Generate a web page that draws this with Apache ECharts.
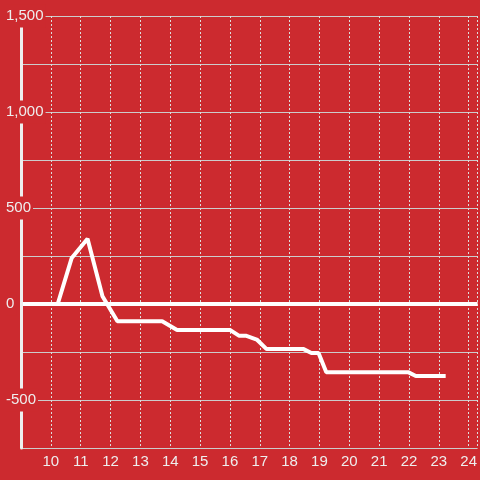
<!DOCTYPE html>
<html>
<head>
<meta charset="utf-8">
<script src="https://cdn.jsdelivr.net/npm/echarts@6/dist/echarts.min.js"></script>
<style>
html, body { margin: 0; padding: 0; background: #cc2a2f; }
#chart { width: 480px; height: 480px; }
</style>
</head>
<body>
<div id="chart"></div>
<script>
// hours of the day and the running value
var hours = [9, 10.23, 10.7, 11.23, 11.73, 12.23, 13.73, 14.23, 16.0, 16.3, 16.53, 16.9, 17.23, 18.47, 18.73, 18.97, 19.23, 21.97, 22.23, 23.23];
var values = [0, 0, 240, 340, 40, -90, -90, -135, -135, -165, -165, -185, -235, -235, -255, -255, -355, -355, -375, -375];
var yTicks = [-500, 0, 500, 1000, 1500];

function buildPoints() {
    var pts = [];
    for (var i = 0; i < hours.length; i++) {
        pts.push([hours[i], values[i]]);
    }
    return pts;
}

function drawChart() {
    var dom = document.getElementById('chart');
    var chart = echarts.init(dom);
    var bg = '#cc2a2f';
    var option = {
        backgroundColor: bg,
        animation: false,
        grid: { left: 21, right: 0, top: 16, bottom: 32 },
        xAxis: {
            type: 'value',
            min: 9,
            max: 24.3,
            interval: 1,
            axisLine: { show: true, lineStyle: { color: '#ccc', width: 1 } },
            axisTick: { show: false },
            axisLabel: {
                color: '#eee',
                fontSize: 15,
                fontFamily: 'Liberation Sans',
                margin: 6,
                showMinLabel: false,
                showMaxLabel: false
            },
            splitLine: { show: true, lineStyle: { color: '#ddd', type: [2, 2], width: 1 } }
        },
        yAxis: [{
                type: 'value',
                min: -750,
                max: 1500,
                interval: 250,
                axisLine: { show: false },
                axisTick: { show: false },
                axisLabel: { show: false },
                splitLine: { show: true, lineStyle: { color: '#ccc', width: 1 } }
            },
            {
                // overlay axis: thick line and labels with a red box
                type: 'value',
                position: 'left',
                min: -750,
                max: 1500,
                interval: 250,
                z: 5,
                axisLine: { show: true, lineStyle: { color: '#eee', width: 3 } },
                axisTick: { show: false },
                splitLine: { show: false },
                axisLabel: {
                    color: '#eee',
                    fontSize: 15,
                    fontFamily: 'Liberation Sans',
                    align: 'left',
                    margin: 15,
                    backgroundColor: bg,
                    padding: [4, 2, 4, 0],
                    formatter: function(v) {
                        if (yTicks.indexOf(v) < 0) return '';
                        return v.toLocaleString('en-US');
                    }
                }
            }
        ],
        series: [{
            type: 'line',
            data: buildPoints(),
            showSymbol: false,
            lineStyle: { color: '#fff', width: 4 },
            markLine: {
                silent: true,
                symbol: 'none',
                label: { show: false },
                lineStyle: { color: '#fff', width: 4, type: 'solid' },
                data: [{ yAxis: 0 }]
            }
        }]
    };
    chart.setOption(option);
}

drawChart();
</script>
</body>
</html>
